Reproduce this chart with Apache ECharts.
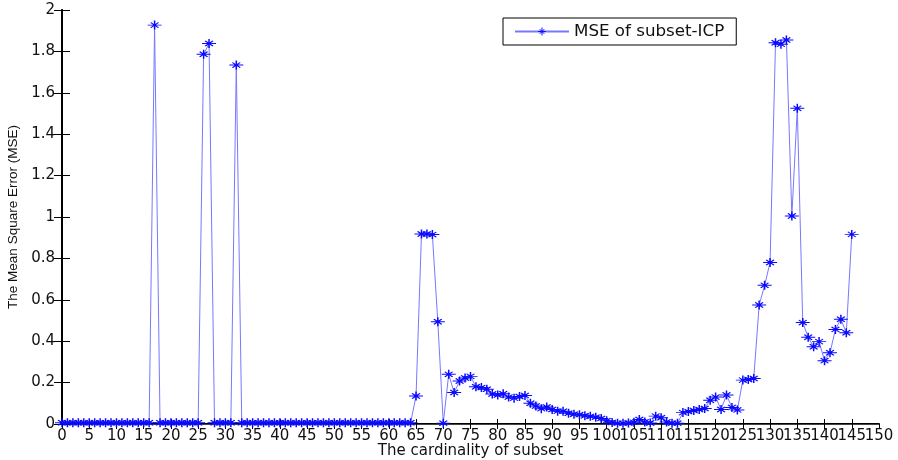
<!DOCTYPE html>
<html>
<head>
<meta charset="utf-8">
<script src="https://cdn.jsdelivr.net/npm/echarts@6/dist/echarts.min.js"></script>
<style>html,body{margin:0;padding:0;background:#fff}#c{width:898px;height:460px}</style>
</head>
<body>
<div id="c"></div>
<script>
// subset cardinality index 0..145
const cardinality = Array.from({length: 146}, (_, i) => i);
// MSE values
const mse = [
  0.006,0.006,0.006,0.006,0.006,0.006,0.006,0.006,0.006,0.006, // 0-9
  0.006,0.006,0.006,0.006,0.006,0.006,0.006,1.927,0.006,0.006, // 10-19
  0.006,0.006,0.006,0.006,0.006,0.006,1.786,1.838,0.006,0.006, // 20-29
  0.006,0.006,1.734,0.006,0.006,0.006,0.006,0.006,0.006,0.006, // 30-39
  0.006,0.006,0.006,0.006,0.006,0.006,0.006,0.006,0.006,0.006, // 40-49
  0.006,0.006,0.006,0.006,0.006,0.006,0.006,0.006,0.006,0.006, // 50-59
  0.006,0.006,0.006,0.006,0.006,0.135,0.918,0.918,0.915,0.494, // 60-69
  0.004,0.240,0.152,0.208,0.222,0.230,0.180,0.176,0.168,0.145, // 70-79
  0.140,0.146,0.130,0.125,0.133,0.138,0.100,0.087,0.074,0.082, // 80-89
  0.070,0.062,0.062,0.052,0.047,0.045,0.040,0.037,0.033,0.027, // 90-99
  0.016,0.007,0.004,0.004,0.005,0.008,0.022,0.010,0.005,0.038, // 100-109
  0.030,0.010,0.004,0.004,0.055,0.060,0.065,0.070,0.075,0.115, // 110-119
  0.130,0.070,0.140,0.080,0.068,0.212,0.215,0.220,0.575,0.670, // 120-129
  0.780,1.842,1.835,1.855,1.005,1.525,0.490,0.419,0.373,0.398, // 130-139
  0.306,0.344,0.457,0.506,0.441,0.916                          // 140-145
];
const xMin = 0, xMax = 150, xStep = 5;
const yMin = 0, yMax = 2, yStep = 0.2;
const seriesName = 'MSE of subset-ICP';
const xTitle = 'The cardinality of subset';
const yTitle = 'The Mean Square Error (MSE)';

const points = cardinality.map((x, i) => [x, mse[i]]);
const star = 'path://M0,-4.5L0,4.5M-3.9,-2.6L3.9,2.6M-3.9,2.6L3.9,-2.6M-7,0L7,0';
const labelFont = {fontFamily: 'DejaVu Sans', fontSize: 15, color: '#111'};

const chart = echarts.init(document.getElementById('c'), null, {renderer: 'canvas'});
chart.setOption({
  animation: false,
  backgroundColor: '#fff',
  grid: {left: 62, right: 19, top: 10, bottom: 36, containLabel: false, outerBoundsMode: 'none'},
  legend: {
    left: 503, top: 18,
    padding: [5, 12, 5, 11],
    borderColor: '#000', borderWidth: 1,
    itemWidth: 54, itemHeight: 10, itemGap: 6,
    itemStyle: {color: 'rgba(0,0,0,0)', borderColor: '#1010ff', borderWidth: 1},
    textStyle: {fontFamily: 'DejaVu Sans', fontSize: 16.7, color: '#111'},
    data: [seriesName]
  },
  xAxis: [{
    type: 'value', min: xMin, max: xMax, interval: xStep,
    name: xTitle, nameLocation: 'middle', nameGap: 19.5, nameMoveOverlap: false,
    nameTextStyle: {fontFamily: 'DejaVu Sans', fontSize: 15, color: '#111', verticalAlign: 'top'},
    axisLine: {lineStyle: {color: '#000', width: 2}},
    axisTick: {inside: true, length: 5, lineStyle: {color: '#000'}},
    axisLabel: Object.assign({margin: 5, interval: 0, hideOverlap: false, showMinLabel: true, showMaxLabel: false}, labelFont),
    splitLine: {show: false}
  }, {
    type: 'value', min: xMin, max: xMax, interval: xStep, position: 'top',
    axisLine: {lineStyle: {color: '#444', width: 1}},
    axisTick: {inside: true, length: 5, lineStyle: {color: '#000'}},
    axisLabel: {show: false}, splitLine: {show: false}
  }, {
    // carries only the last tick label so it is not suppressed by overlap
    type: 'value', min: xMin, max: xMax, interval: xMax - xMin, position: 'bottom',
    axisLine: {show: false}, axisTick: {show: false}, splitLine: {show: false},
    axisLabel: Object.assign({margin: 5, formatter: v => (v === xMax ? String(v) : '')}, labelFont)
  }],
  yAxis: [{
    type: 'value', min: yMin, max: yMax, interval: yStep,
    name: yTitle, nameLocation: 'middle', nameGap: 42, nameMoveOverlap: false,
    nameTextStyle: {fontFamily: 'Liberation Sans', fontSize: 13.5, color: '#111'},
    axisLine: {show: true, lineStyle: {color: '#000', width: 2}},
    axisTick: {show: true, inside: true, length: 8, lineStyle: {color: '#000'}},
    axisLabel: Object.assign({margin: 7}, labelFont),
    splitLine: {show: false}
  }, {
    type: 'value', min: yMin, max: yMax, interval: yStep, position: 'right',
    axisLine: {show: true, lineStyle: {color: '#000', width: 1.5}},
    axisTick: {show: true, inside: true, length: 8, lineStyle: {color: '#000'}},
    axisLabel: {show: false}, splitLine: {show: false}
  }],
  series: [{
    name: seriesName,
    type: 'line',
    xAxisIndex: 0, yAxisIndex: 0,
    data: points,
    symbol: star,
    symbolSize: [14, 9],
    showAllSymbol: true,
    lineStyle: {color: '#7878ff', width: 1},
    itemStyle: {color: 'rgba(0,0,0,0)', borderColor: '#0a0aff', borderWidth: 1.2},
    emphasis: {disabled: true},
    clip: false
  }]
});
</script>
</body>
</html>
